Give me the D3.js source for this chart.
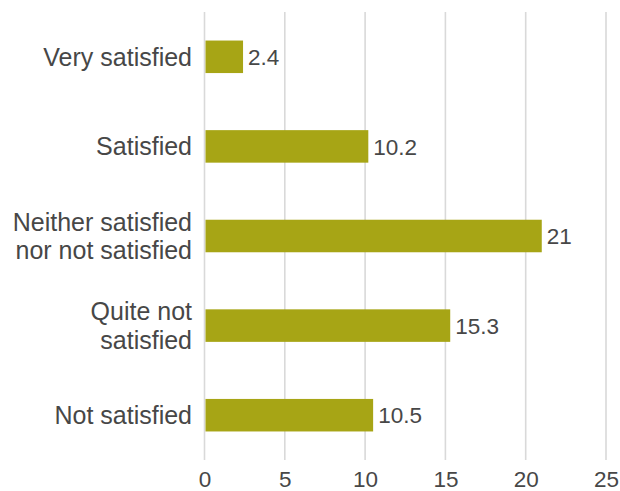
<!DOCTYPE html>
<html>
<head>
<meta charset="utf-8">
<script src="https://cdn.jsdelivr.net/npm/d3@7/dist/d3.min.js"></script>
<style>
  html, body { margin: 0; padding: 0; background: #ffffff; }
  svg { display: block; }
  text { font-family: "Liberation Sans", Arial, sans-serif; fill: #474747; }
</style>
</head>
<body>
<svg id="chart" width="620" height="491"></svg>
<script>
// Satisfaction levels (top to bottom) and their shares
const categories = [
  "Very satisfied",
  "Satisfied",
  "Neither satisfied\nnor not satisfied",
  "Quite not\nsatisfied",
  "Not satisfied"
];
const values = [2.4, 10.2, 21, 15.3, 10.5];
const tickValues = [0, 5, 10, 15, 20, 25];

const svg = d3.select("#chart");

const x = d3.scaleLinear().domain([0, 25]).range([204.5, 606]);
const y = d3.scaleBand()
  .domain(categories)
  .range([12, 460])
  .paddingInner(0.637)
  .paddingOuter(0.3185);

// Vertical gridlines
svg.append("g")
  .selectAll("line")
  .data(tickValues)
  .join("line")
  .attr("x1", d => x(d)).attr("x2", d => x(d))
  .attr("y1", 12).attr("y2", 460)
  .attr("stroke", "#d9d9d9")
  .attr("stroke-width", 1.6);

// Bars
svg.append("g")
  .selectAll("rect")
  .data(values)
  .join("rect")
  .attr("x", x(0) + 1)
  .attr("y", (d, i) => y(categories[i]))
  .attr("width", d => x(d) - x(0) - 1)
  .attr("height", y.bandwidth())
  .attr("fill", "#a7a515");

// Value labels
svg.append("g")
  .selectAll("text")
  .data(values)
  .join("text")
  .attr("x", d => x(d) + 5)
  .attr("y", (d, i) => y(categories[i]) + y.bandwidth() / 2)
  .attr("dy", "0.36em")
  .attr("font-size", 22.5)
  .text(d => String(d));

// X axis tick labels
const xAxis = d3.axisBottom(x).tickValues(tickValues).tickSize(0).tickPadding(0);
const gx = svg.append("g").attr("transform", "translate(0,471)").call(xAxis);
gx.select(".domain").remove();
gx.selectAll("text")
  .attr("font-size", 22.5)
  .attr("font-family", "Liberation Sans, Arial, sans-serif")
  .attr("fill", "#474747")
  .attr("dy", "0.71em");

// Category labels (right-aligned, wrapped onto two lines where needed)
const lineH = 28.5;
svg.append("g")
  .selectAll("text")
  .data(categories)
  .join("text")
  .attr("text-anchor", "end")
  .attr("font-size", 25)
  .each(function(d) {
    const lines = d.split("\n");
    const cy = y(d) + y.bandwidth() / 2;
    const t = d3.select(this);
    lines.forEach((ln, k) => {
      t.append("tspan")
        .attr("x", 192)
        .attr("y", cy + (k - (lines.length - 1) / 2) * lineH)
        .attr("dy", "0.36em")
        .text(ln);
    });
  });
</script>
</body>
</html>
